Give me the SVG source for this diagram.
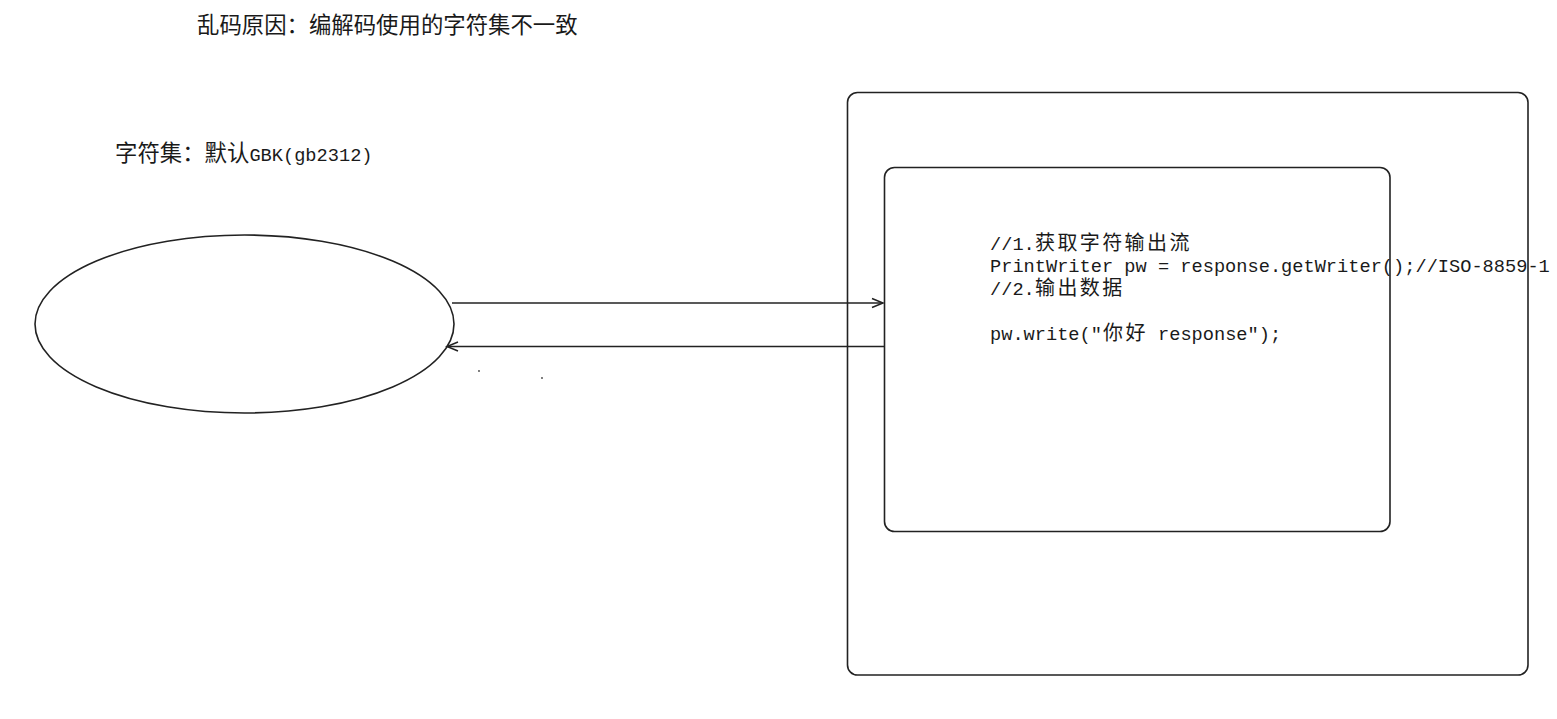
<svg xmlns="http://www.w3.org/2000/svg" width="1557" height="719" viewBox="0 0 1557 719">
  <style>
    .shape { fill: none; stroke: #222; stroke-width: 1.6; }
    .conn { fill: none; stroke: #222; stroke-width: 1.6; }
    .cjk { font-family: "Noto Sans CJK SC", "Noto Sans", sans-serif; font-size: 22.4px; fill: #1a1a1a; }
    .cjk-s { font-family: "Noto Sans CJK SC", "Noto Sans", sans-serif; font-size: 20px; letter-spacing: 2.4px; fill: #1a1a1a; }
    .mono { font-family: "Liberation Mono", "DejaVu Sans Mono", monospace; font-size: 18.67px; fill: #1a1a1a; }
  </style>
  <defs>
    <marker id="arrow" markerUnits="userSpaceOnUse" markerWidth="14" markerHeight="12" refX="12" refY="6" orient="auto">
      <path d="M1,1.5 L12,6 L1,10.5" fill="none" stroke="#222" stroke-width="1.5"/>
    </marker>
  </defs>
  <rect width="1557" height="719" fill="#ffffff"/>

  <g id="title">
    <text x="197" y="33" class="cjk">乱码原因：编解码使用的字符集不一致</text>
  </g>

  <g id="charset-label">
    <text y="161"><tspan x="115" class="cjk">字符集：默认</tspan><tspan x="249.4" class="mono">GBK(gb2312)</tspan></text>
  </g>

  <g id="browser">
    <ellipse cx="244.5" cy="324" rx="209.5" ry="89" class="shape"/>
  </g>

  <g id="server">
    <rect x="847.5" y="92.5" width="680.5" height="582.5" rx="10" ry="10" class="shape"/>
  </g>

  <g id="servlet">
    <rect x="884.5" y="167.5" width="505.5" height="364" rx="10" ry="10" class="shape"/>
    <text y="250"><tspan x="990" class="mono">//1.</tspan><tspan x="1035" class="cjk-s">获取字符输出流</tspan></text>
    <text y="272" x="990" class="mono">PrintWriter pw = response.getWriter();//ISO-8859-1</text>
    <text y="295"><tspan x="990" class="mono">//2.</tspan><tspan x="1035" class="cjk-s">输出数据</tspan></text>
    <text y="340"><tspan x="990" class="mono">pw.write("</tspan><tspan x="1103" class="cjk-s">你好</tspan><tspan x="1146.8" class="mono"> response");</tspan></text>
  </g>

  <g id="connectors">
    <line x1="452" y1="303" x2="883" y2="303" class="conn" marker-end="url(#arrow)"/>
    <line x1="884" y1="346.5" x2="447" y2="346.5" class="conn" marker-end="url(#arrow)"/>
  </g>

  <g id="specks" fill="#444">
    <circle cx="479" cy="371" r="0.9"/>
    <circle cx="542" cy="378" r="0.9"/>
  </g>
</svg>
